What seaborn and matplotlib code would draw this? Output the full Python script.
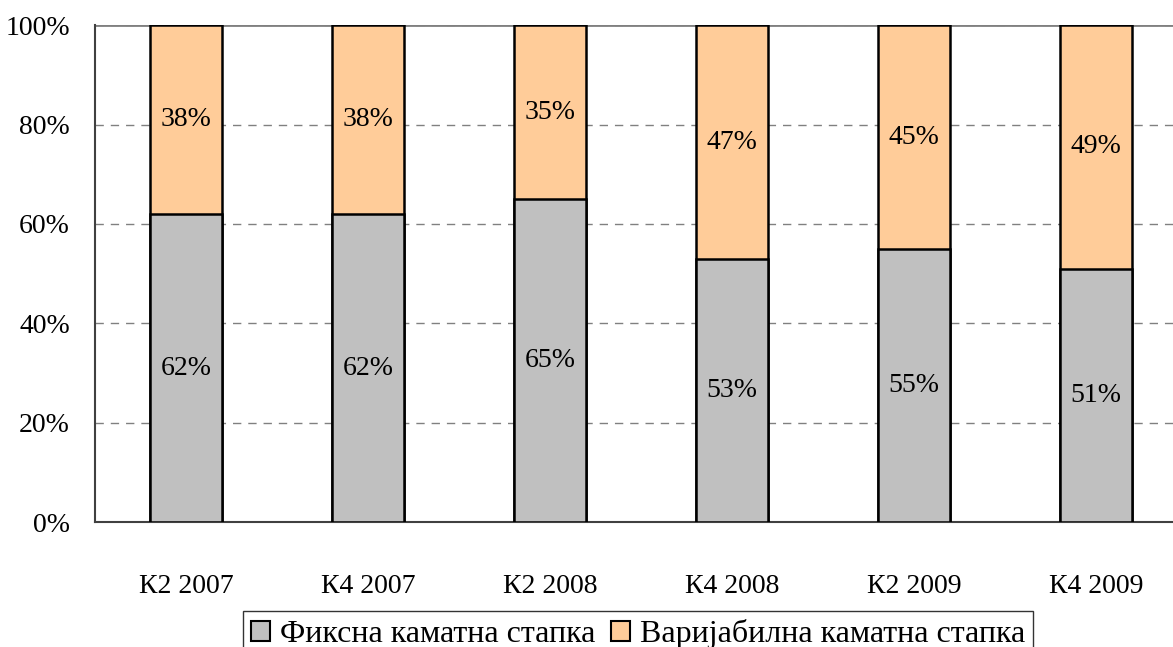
import numpy as np
import pandas as pd
import matplotlib
matplotlib.use("Agg")
import matplotlib.pyplot as plt
import seaborn as sns
from matplotlib.patches import Patch

# data
quarters = ["К2 2007", "К4 2007", "К2 2008", "К4 2008", "К2 2009", "К4 2009"]
fixed = [62, 62, 65, 53, 55, 51]
variable = [38, 38, 35, 47, 45, 49]
series_names = ["Фиксна каматна стапка", "Варијабилна каматна стапка"]
colors = ["#c0c0c0", "#ffcc99"]

df = pd.DataFrame({"quarter": quarters, "fixed": fixed, "variable": variable})
df["total"] = df["fixed"] + df["variable"]

sns.set_style("white")
plt.rcParams["font.family"] = ["Liberation Serif", "DejaVu Serif"]
plt.rcParams["font.size"] = 20
plt.rcParams["text.color"] = "black"
plt.rcParams["xtick.color"] = "black"
plt.rcParams["ytick.color"] = "black"

fig = plt.figure(figsize=(11.73, 6.47), dpi=100)
ax = fig.add_axes([0.081, 0.193, 0.931, 0.768])

# stacked bars: total (variable on top) then fixed over it
sns.barplot(data=df, x="quarter", y="total", color=colors[1], width=0.4, saturation=1,
            edgecolor="black", linewidth=1.8, ax=ax, zorder=3)
sns.barplot(data=df, x="quarter", y="fixed", color=colors[0], width=0.4, saturation=1,
            edgecolor="black", linewidth=1.8, ax=ax, zorder=3)

# labels in the middle of each segment
for i, row in df.iterrows():
    ax.text(i, row["fixed"] / 2, f"{row['fixed']}%", ha="center", va="center", zorder=4)
    ax.text(i, row["fixed"] + row["variable"] / 2, f"{row['variable']}%",
            ha="center", va="center", zorder=4)

ax.set_xlim(-0.5, 5.5)
ax.set_ylim(0, 100)
ax.set_yticks(np.arange(0, 101, 20))
ax.set_yticklabels([f"{v}%" for v in range(0, 101, 20)])
ax.yaxis.grid(True, color="#808080", linestyle=(0, (6, 5)), linewidth=1)
ax.axhline(100, color="#808080", linewidth=2, zorder=2)

ax.set_xticks(np.arange(-0.5, 6, 1), minor=False)
ax.set_xticklabels([])
ax.set_xticks(np.arange(6), minor=True)
ax.set_xticklabels(quarters, minor=True)
ax.tick_params(axis="x", which="major", length=8, width=1.2, color="#404040", direction="out")
ax.tick_params(axis="x", which="minor", length=0, pad=37)
ax.tick_params(axis="y", length=8, width=1.2, color="#404040", direction="out", pad=10)
ax.set_xlabel("")
ax.set_ylabel("")

for s in ["top", "right"]:
    ax.spines[s].set_visible(False)
for s in ["left", "bottom"]:
    ax.spines[s].set_color("#404040")
    ax.spines[s].set_linewidth(1.5)

handles = [Patch(facecolor=c, edgecolor="black", linewidth=1.5) for c in colors]
leg = fig.legend(handles, series_names, loc="center", bbox_to_anchor=(0.544, 0.02),
                 ncol=2, frameon=True, fancybox=False, handlelength=0.6, handleheight=0.6,
                 handletextpad=0.3, columnspacing=0.5, borderpad=0.25, fontsize=23)
leg.get_frame().set_edgecolor("black")
leg.get_frame().set_linewidth(1)

fig.savefig("out.png", dpi=100)
